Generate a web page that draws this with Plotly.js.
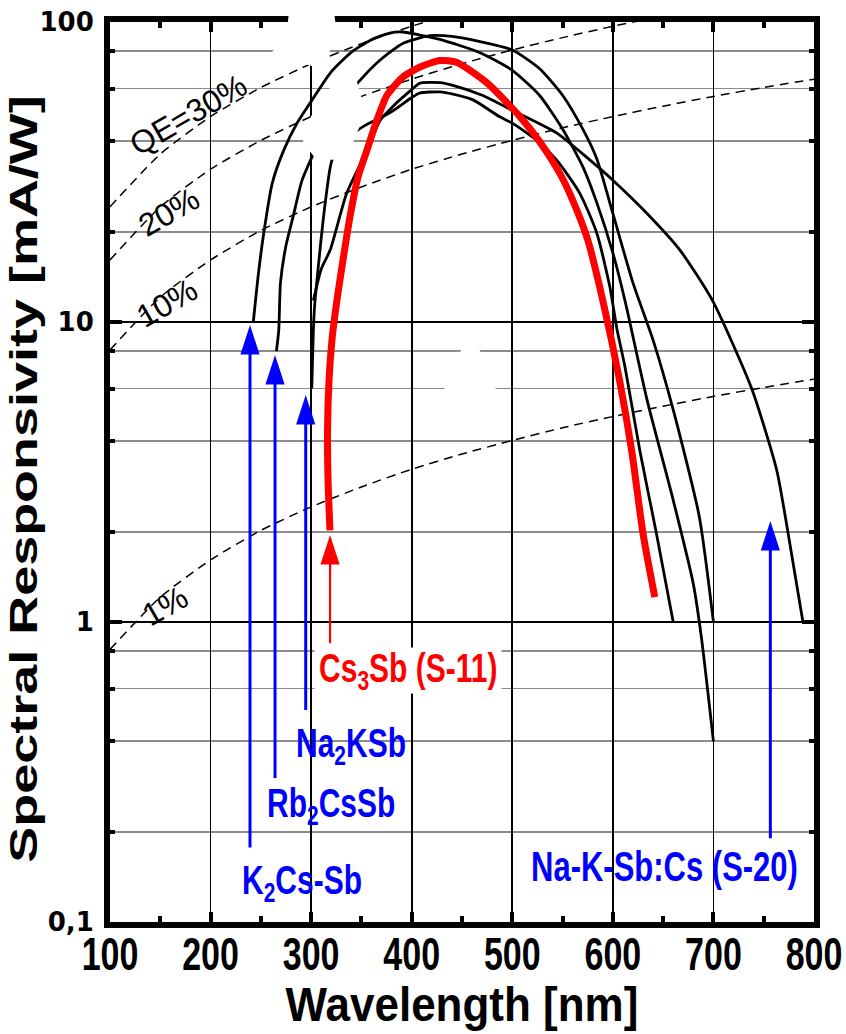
<!DOCTYPE html>
<html><head><meta charset="utf-8">
<script src="https://cdn.plot.ly/plotly-3.0.1.min.js"></script>
<style>html,body{margin:0;padding:0;background:#fff}</style>
</head><body>
<div id="chart" style="width:846px;height:1034px"></div>
<script>
// ---------- data (wavelength in nm, responsivity in mA/W) ----------
const k2csWl = [242.5, 247.7, 252.9, 261.3, 272.8, 286, 301, 319, 339, 359, 378, 391, 408, 428, 468, 500, 527, 550, 570, 584, 600, 612, 634, 660, 680, 688, 700];
const k2csR  = [10, 14.6, 19.8, 29, 37.4, 46, 55, 67.6, 78.8, 87, 91.9, 92.6, 90.5, 87.5, 79, 69, 57, 44, 33, 25, 17, 11.8, 5.5, 2.55, 1.34, 0.89, 0.40];

const rb2csWl = [265.5, 267.8, 269.5, 275, 282, 291, 304, 320, 335, 347, 368.6, 391.5, 418, 440, 468, 500, 527, 550, 570, 584, 600, 620, 640, 660, 686, 700];
const rb2csR  = [8.0, 9.4, 13.5, 18, 22.4, 29.7, 37.4, 48, 56, 63, 74.7, 85, 90, 89.5, 86, 80.7, 70, 57, 44, 35, 23, 13.5, 8.7, 5.1, 2.24, 1.0];

const na2kWl = [300.6, 302.2, 303.6, 307.3, 312.3, 319, 322.3, 340, 355, 368.6, 383, 400, 408, 428, 441, 461, 488, 500, 524, 544, 567, 584, 597, 604, 612, 627, 643, 660];
const na2kR  = [6.0, 9.4, 11.5, 15.5, 22.4, 32.8, 36, 42, 45.5, 47.9, 51, 56, 58, 58.5, 57.5, 55, 48.2, 46, 40.4, 34.7, 26.9, 19.8, 13.1, 9.5, 7.1, 3.7, 2.0, 1.0];

const s20Wl = [302.2, 310, 319, 335.4, 355.7, 368.6, 383, 400, 408, 428, 441, 470, 500, 544, 577, 600, 634, 666.5, 699, 738, 763, 774, 789];
const s20R  = [11.8, 15, 17.4, 26.9, 37.4, 47, 53, 59.5, 62.5, 62.8, 61.5, 57, 50.8, 42.7, 34.7, 29.7, 23, 17.4, 11.8, 6.0, 3.2, 2.0, 1.0];

const cs3sbWl = [318.7, 316.8, 316.3, 317.8, 320.7, 325.7, 331.7, 338.6, 346.6, 355.5, 365.5, 375.4, 391.3, 408.2, 428, 445, 475, 508, 527, 547, 560, 575, 590, 607, 619, 630, 641.7];
const cs3sbR  = [2.02, 2.98, 4.36, 6.41, 8.71, 11.85, 16.1, 22.4, 30.4, 37.4, 47.2, 57, 65.6, 70.8, 74.4, 73.3, 62.6, 48.2, 40, 31.4, 25.5, 18.8, 11.8, 6.3, 3.67, 1.97, 1.21];

// constant quantum-efficiency reference lines
const qeWl   = [100, 150, 200, 250, 300, 350, 400, 450, 500, 550, 600, 650, 700, 750, 800];
const qe1R   = [0.81, 1.21, 1.61, 2.02, 2.42, 2.82, 3.23, 3.63, 4.03, 4.44, 4.84, 5.24, 5.65, 6.05, 6.45];
const qe10R  = [8.07, 12.1, 16.1, 20.2, 24.2, 28.2, 32.3, 36.3, 40.3, 44.4, 48.4, 52.4, 56.5, 60.5, 64.5];
const qe20R  = [16.1, 24.2, 32.3, 40.3, 48.4, 56.5, 64.5, 72.6, 80.7, 88.7, 96.8, 104.8];
const qe30R  = [24.2, 36.3, 48.4, 60.5, 72.6, 84.7, 96.8, 108.9];

// label arrows: x position, arrow tail and head responsivity
const arrowX     = [239.2, 264.1, 294.6, 318.8, 756.6];
const arrowTail  = [0.177, 0.302, 0.509, 0.85, 0.19];
const arrowHead  = [9.77, 7.76, 5.71, 1.95, 2.17];
const arrowColor = ['#0000ff', '#0000ff', '#0000ff', '#ff0000', '#0000ff'];

const xTickVals = [100, 200, 300, 400, 500, 600, 700, 800];
const yTickVals = [0.1, 1, 10, 100];
const yTickText = ['0,1', '1', '10', '100'];
const yMinorVals = [0.2, 0.4, 0.6, 0.8, 2, 4, 6, 8, 20, 40, 60, 80];

// ---------- styling ----------
const SANS = 'Liberation Sans, Arial, sans-serif';

const traces = [];
function qe(y) {
  traces.push({x: qeWl.slice(0, y.length), y: y, mode: 'lines',
    line: {color: '#000', width: 1.5, dash: '9px,6px', shape: 'spline', smoothing: 0.6}, hoverinfo: 'skip'});
}
[qe1R, qe10R, qe20R, qe30R].forEach(qe);

function curve(x, y, color, w) {
  traces.push({x: x, y: y, mode: 'lines',
    line: {color: color, width: w, shape: 'spline', smoothing: 0.6}, hoverinfo: 'skip'});
}
curve(k2csWl, k2csR, '#000', 2.8);
curve(rb2csWl, rb2csR, '#000', 2.8);
curve(na2kWl, na2kR, '#000', 2.8);
curve(s20Wl, s20R, '#000', 2.8);
curve(cs3sbWl, cs3sbR, '#ff0000', 7);

arrowX.forEach((ax, i) => {
  traces.push({x: [ax, ax], y: [arrowTail[i], arrowHead[i] * 0.93], mode: 'lines',
    line: {color: arrowColor[i], width: i === 3 ? 2.2 : 3}, hoverinfo: 'skip'});
  traces.push({x: [ax], y: [arrowHead[i]], mode: 'markers',
    marker: {symbol: 'arrow', size: 31, color: arrowColor[i], angle: 0, line: {width: 0}}, hoverinfo: 'skip'});
});

// pixel helpers (decoration / label placement only)
const PX = p => (p - 110) / 704;
const PY = p => (922 - p) / 900;
function blob(pts) {
  return {type: 'path', xref: 'paper', yref: 'paper', layer: 'above', fillcolor: '#fff',
    line: {width: 0}, path: 'M' + pts.map(([a, b]) => PX(a).toFixed(4) + ',' + PY(b).toFixed(4)).join('L') + 'Z'};
}
const shapes = [
  blob([[272,52],[286,38],[289,12],[334,12],[337,34],[327,58],[312,66],[297,62]]),
  blob([[303,142],[306,125],[316,108],[330,88],[345,72],[356,78],[362,100],[359,128],[350,150],[335,160],[315,158]]),
  blob([[470,336],[486,360],[496,390],[470,400],[444,390],[455,360]])
];

function lab(text, px, py, color, opts) {
  return Object.assign({text: text, xref: 'paper', yref: 'paper', x: PX(px), y: PY(py),
    xanchor: 'left', yanchor: 'middle', showarrow: false,
    font: {family: SANS, size: 30, weight: 'bold', color: color}}, opts || {});
}
function qeLab(text, px, py) {
  return {text: text, xref: 'paper', yref: 'paper', x: PX(px), y: PY(py), xanchor: 'center', yanchor: 'middle',
    showarrow: false, textangle: -30, font: {family: SANS, size: 32, color: '#000'}};
}
const annotations = [
  lab('Cs<sub>3</sub>Sb (S-11)', 314, 670, '#ff0000', {bgcolor: '#fff', borderpad: 4}),
  lab('Na<sub>2</sub>KSb', 294, 745, '#0000ff'),
  lab('Rb<sub>2</sub>CsSb', 265, 805, '#0000ff'),
  lab('K<sub>2</sub>Cs-Sb', 240, 882, '#0000ff'),
  lab('Na-K-Sb:Cs (S-20)', 529, 866, '#0000ff', {font: {family: SANS, size: 31, weight: 'bold', color: '#0000ff'}}),
  qeLab('QE=30%', 188, 115),
  qeLab('20%', 169, 212),
  qeLab('10%', 167, 303),
  qeLab('1%', 165, 606)
];

const layout = {
  width: 846, height: 1034,
  margin: {l: 110, r: 32, t: 22, b: 112},
  paper_bgcolor: '#fff', plot_bgcolor: '#fff',
  showlegend: false,
  xaxis: {
    range: [100, 800], tickmode: 'array', tickvals: xTickVals,
    ticks: 'inside', ticklen: 10, tickwidth: 4, tickcolor: '#000',
    showline: true, linewidth: 6, linecolor: '#000', mirror: 'ticks',
    showgrid: true, gridcolor: '#000', gridwidth: 1.7, zeroline: false,
    minor: {tick0: 100, dtick: 50, ticks: 'inside', ticklen: 6, tickwidth: 4, tickcolor: '#000', showgrid: false},
    tickfont: {family: SANS, size: 34, weight: 'bold', color: '#000'},
    ticklabelstandoff: 0,
    title: {text: 'Wavelength [nm]', font: {family: SANS, size: 44, weight: 'bold', color: '#000'}, standoff: 16}
  },
  yaxis: {
    type: 'log', range: [-1, 2], tickmode: 'array', tickvals: yTickVals, ticktext: yTickText,
    ticks: 'inside', ticklen: 12, tickwidth: 4, tickcolor: '#000',
    showline: true, linewidth: 6, linecolor: '#000', mirror: 'ticks',
    showgrid: true, gridcolor: '#000', gridwidth: 1.7, zeroline: false,
    minor: {tickmode: 'array', tickvals: yMinorVals, ticks: 'inside', ticklen: 5, tickwidth: 4, tickcolor: '#000',
            showgrid: true, gridcolor: '#8c8c8c', gridwidth: 1.8},
    tickfont: {family: 'DejaVu Sans', size: 26, weight: 'bold', color: '#000'},
    ticklabelstandoff: 5,
    title: {text: 'Spectral Responsivity [mA/W]', font: {family: SANS, size: 38, weight: 'bold', color: '#000'}, standoff: 8}
  },
  shapes: shapes,
  annotations: annotations
};

// vertically stretch text glyphs (the reference lettering is tall and narrow)
function stretch(nodes, k, dy) {
  nodes.forEach(t => {
    const bb = t.getBBox(); const cy = bb.y + bb.height / 2;
    const old = t.getAttribute('transform') || '';
    t.setAttribute('transform', `${old} translate(0,${cy + (dy || 0)}) scale(1,${k}) translate(0,${-cy})`);
  });
}

Plotly.newPlot('chart', traces, layout, {staticPlot: true, displayModeBar: false}).then(() => {
  const root = document.getElementById('chart');
  const t = root.querySelector('.ytitle');
  if (t) {
    const x = +t.getAttribute('x'), y = +t.getAttribute('y');
    t.setAttribute('transform', `translate(3,7) rotate(-90,${x},${y}) translate(${x},${y}) scale(1.42,1) translate(${-x},${-y})`);
  }
  stretch(root.querySelectorAll('.xtick text'), 1.38, -3);
  stretch(root.querySelectorAll('.xtitle'), 1.1, 0);
  const labs = [];
  for (let i = 0; i < 5; i++) {
    const g = root.querySelector(`.annotation[data-index="${i}"] text`);
    if (g) labs.push(g);
  }
  stretch(labs, 1.35);
});
</script>
</body></html>
